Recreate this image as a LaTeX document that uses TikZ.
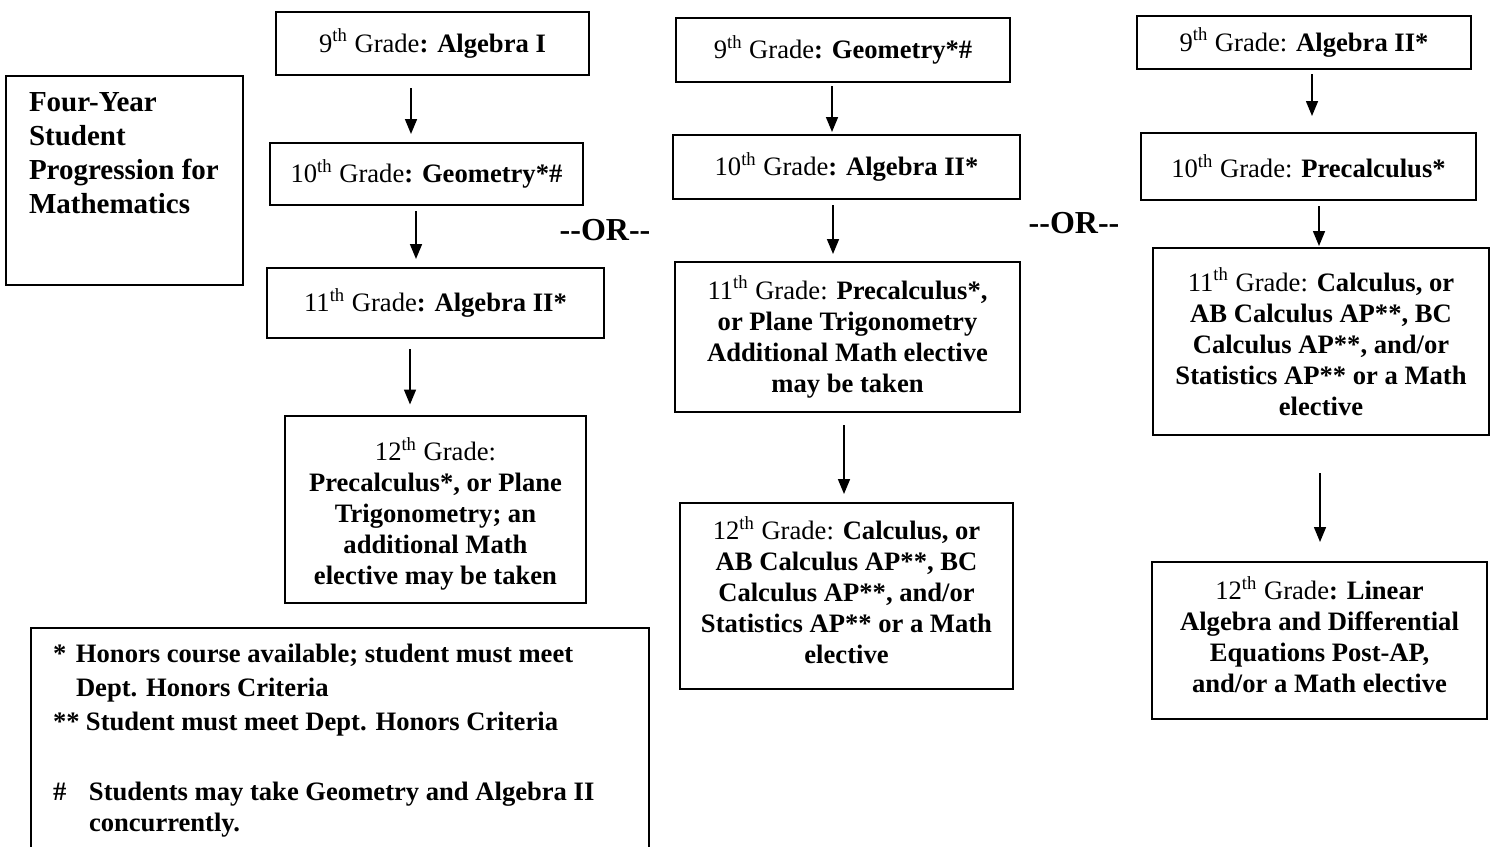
\documentclass[tikz,border=0pt]{standalone}
\usepackage{fontspec}
\setmainfont{Liberation Serif}
\usetikzlibrary{arrows.meta}
\tikzset{
  gbox/.style={draw, line width=1pt, align=center, inner sep=0pt,
    font=\fontsize{13.3}{15.5}\selectfont},
  sz/.style 2 args={minimum width=#1*0.5pt, minimum height=#2*0.5pt},
  arr/.style={line width=0.8pt, -{Triangle[width=6pt,length=7.5pt]}},
  orlabel/.style={font=\fontsize{16}{18}\selectfont\bfseries, inner sep=0pt}
}
\newcommand{\gth}{\textsuperscript{th}}
% fixed-size centred text block: width, height, space above, space below
\newcommand{\cblock}[5]{\parbox[c][#2][c]{#1}{\centering\vspace*{#3}#5\par\vspace*{#4}}}
\begin{document}
\begin{tikzpicture}[x=0.5pt,y=-0.5pt]
\clip (0,0) rectangle (1492,846);
% title
\node[draw, line width=1pt, anchor=north west, inner sep=0pt] (title) at (5,75)
  {\parbox[c][104.5pt][t]{118.5pt}{\leftskip=11.5pt\fontsize{14.5}{17}\selectfont\bfseries
   \vspace*{8.5pt}Four-Year\\Student\\Progression for\\Mathematics}};
% column 1
\node[gbox, sz={313}{63}] (a1) at (432.5,43.5) {9\gth{} Grade\textbf{: Algebra I}};
\node[gbox, sz={313}{62}] (a2) at (426.5,174) {10\gth{} Grade\textbf{: Geometry*\#}};
\node[gbox, sz={337}{70}] (a3) at (435.5,303) {11\gth{} Grade\textbf{: Algebra II*}};
\node[gbox] (a4) at (435.5,509)
  {\cblock{150.5pt}{93.5pt}{5pt}{0pt}{12\gth{} Grade:\\\textbf{Precalculus*, or Plane}\\\textbf{Trigonometry; an}\\\textbf{additional Math}\\\textbf{elective may be taken}}};
% column 2
\node[gbox, sz={334}{64}] (b1) at (843,50) {9\gth{} Grade\textbf{: Geometry*\#}};
\node[gbox, sz={347}{64}] (b2) at (846.5,167) {10\gth{} Grade\textbf{: Algebra II*}};
\node[gbox, sz={345}{150}] (b3) at (847.5,337) {11\gth{} Grade: \textbf{Precalculus*,}\\\textbf{or Plane Trigonometry}\\\textbf{Additional Math elective}\\\textbf{may be taken}};
\node[gbox] (b4) at (846.5,596)
  {\cblock{166.5pt}{93pt}{0pt}{6pt}{12\gth{} Grade: \textbf{Calculus, or}\\\textbf{AB Calculus AP**, BC}\\\textbf{Calculus AP**, and/or}\\\textbf{Statistics AP** or a Math}\\\textbf{elective}}};
% column 3
\node[gbox, sz={334}{53}] (c1) at (1304,42.5) {9\gth{} Grade: \textbf{Algebra II*}};
\node[gbox, sz={335}{67}] (c2) at (1308.5,166.5) {10\gth{} Grade: \textbf{Precalculus*}};
\node[gbox, sz={336}{187}] (c3) at (1321,341.5) {11\gth{} Grade: \textbf{Calculus, or}\\\textbf{AB Calculus AP**, BC}\\\textbf{Calculus AP**, and/or}\\\textbf{Statistics AP** or a Math}\\\textbf{elective}};
\node[gbox] (c4) at (1319.5,640.5)
  {\cblock{167.5pt}{78.5pt}{0pt}{6pt}{12\gth{} Grade\textbf{: Linear}\\\textbf{Algebra and Differential}\\\textbf{Equations Post-AP,}\\\textbf{and/or a Math elective}}};
% OR labels
\node[orlabel] (or1) at (605,230) {-\kern0pt-OR-\kern0pt-};
\node[orlabel] (or2) at (1074,223) {-\kern0pt-OR-\kern0pt-};
% legend
\node[draw, line width=1pt, anchor=north west, inner sep=0pt] (legend) at (30,627)
  {\parbox[c][135pt][t]{309pt}{\leftskip=11pt\fontsize{13.3}{17}\selectfont\bfseries
   \vspace*{8pt}\makebox[11.5pt][l]{*}Honors course available; student must meet\\
   \hspace*{11.5pt}Dept. Honors Criteria\\
   \makebox[16.5pt][l]{**}Student must meet Dept. Honors Criteria\\[18pt]
   \makebox[18pt][l]{\#}Students may take Geometry and Algebra II\\[-1.5pt]
   \hspace*{18pt}concurrently.}};
% arrows
\draw[arr, shorten <=6pt, shorten >=4pt] (a1.south -| 411,0) -- (a2.north -| 411,0);
\draw[arr, shorten <=2.5pt, shorten >=4pt] (a2.south -| 416,0) -- (a3.north -| 416,0);
\draw[arr, shorten <=5pt, shorten >=5pt] (a3.south -| 410,0) -- (a4.north -| 410,0);
\draw[arr, shorten <=1.5pt, shorten >=1pt] (b1.south -| 832,0) -- (b2.north -| 832,0);
\draw[arr, shorten <=2.5pt, shorten >=3.5pt] (b2.south -| 833,0) -- (b3.north -| 833,0);
\draw[arr, shorten <=6pt, shorten >=4pt] (b3.south -| 844,0) -- (b4.north -| 844,0);
\draw[arr, shorten <=2pt, shorten >=8pt] (c1.south -| 1312,0) -- (c2.north -| 1312,0);
\draw[arr, shorten <=2.5pt, shorten >=0.5pt] (c2.south -| 1319,0) -- (c3.north -| 1319,0);
\draw[arr, shorten <=18.5pt, shorten >=9.5pt] (c3.south -| 1320,0) -- (c4.north -| 1320,0);
\end{tikzpicture}
\end{document}
